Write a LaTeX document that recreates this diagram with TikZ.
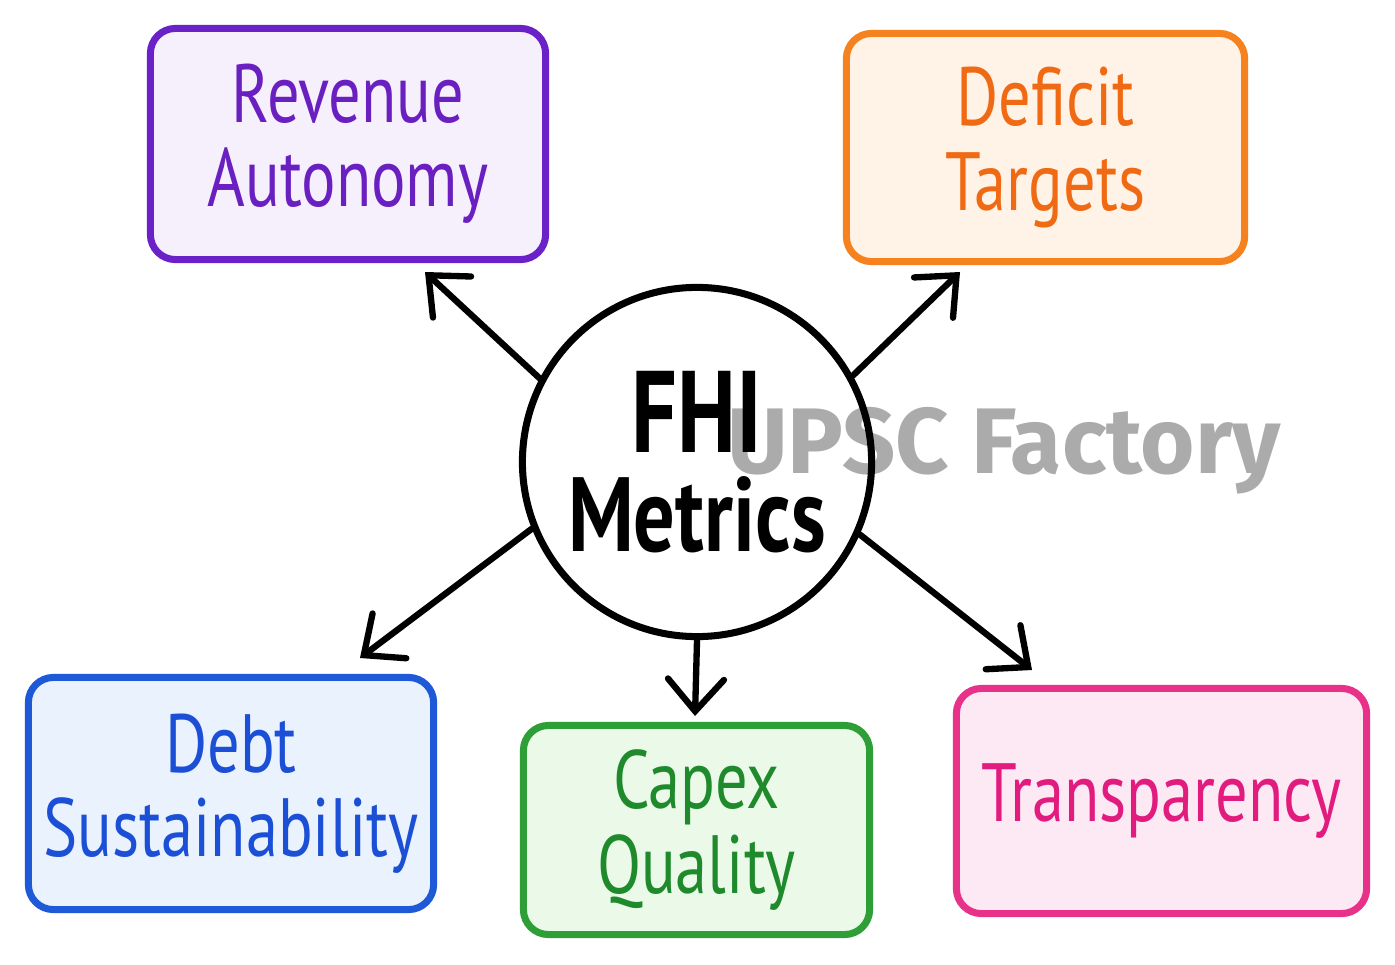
\documentclass[tikz,border=0pt]{standalone}
\usepackage{fontspec}
\setmainfont{PT Sans}[FakeStretch=0.78]
\newfontfamily\markfont{Fira Sans}
\usetikzlibrary{arrows.meta}

\definecolor{revline}{HTML}{6B21C8}
\definecolor{revtext}{HTML}{6A1FC0}
\definecolor{revfill}{HTML}{F6F0FC}
\definecolor{defline}{HTML}{F5821F}
\definecolor{deftext}{HTML}{F06A14}
\definecolor{deffill}{HTML}{FFF3E8}
\definecolor{debtline}{HTML}{1E5AD8}
\definecolor{debttext}{HTML}{1B4FD6}
\definecolor{debtfill}{HTML}{EAF3FD}
\definecolor{capline}{HTML}{2E9E36}
\definecolor{captext}{HTML}{1F8A2C}
\definecolor{capfill}{HTML}{EAF9E8}
\definecolor{trline}{HTML}{E8328A}
\definecolor{trtext}{HTML}{E21C7E}
\definecolor{trfill}{HTML}{FDE9F3}

\begin{document}
\begin{tikzpicture}[
  x=0.01cm, y=-0.01cm,
  box/.style={draw, line width=2pt, rounded corners=0.25cm, align=center,
    font=\fontsize{23.5}{24}\selectfont},
  hubnode/.style={draw, circle, line width=2pt, align=center,
    minimum size=3.49cm, font=\bfseries\fontsize{30}{28}\selectfont},
  link/.style={draw, line width=1.8pt, line cap=round,
    -{Straight Barb[length=0.32cm, width=0.56cm, line cap=round]}}
  ]
\useasboundingbox[fill=white] (0,0) rectangle (1395,964);

% watermark sits under the hub
\node[font=\markfont\bfseries\fontsize{26.5}{28}\selectfont, text=black!33, anchor=base] (mark) at (1004,473) {UPSC Factory};

\node[hubnode] (hub) at (697,462) {{\fontsize{33}{28}\selectfont FHI}\\Metrics};

\node[box, draw=revline, fill=revfill, text=revtext, minimum width=3.95cm, minimum height=2.31cm] (rev) at (348,144) {Revenue\\Autonomy};
\node[box, draw=defline, fill=deffill, text=deftext, minimum width=3.98cm, minimum height=2.28cm] (def) at (1045.5,147.5) {Deficit\\Targets};
\node[box, draw=debtline, fill=debtfill, text=debttext, minimum width=4.05cm, minimum height=2.32cm] (debt) at (231,793.5) {Debt\\Sustainability};
\node[box, draw=capline, fill=capfill, text=captext, minimum width=3.46cm, minimum height=2.09cm] (capex) at (696.5,830) {Capex\\Quality};
\node[box, draw=trline, fill=trfill, text=trtext, minimum width=4.10cm, minimum height=2.25cm] (trans) at (1161.5,801) {Transparency};

% arrow tips, just short of the boxes
\coordinate (revtip) at (425,272);
\coordinate (deftip) at (960,272);
\coordinate (debttip) at (360,658);
\coordinate (capextip) at (695,716);
\coordinate (transtip) at (1032,670);

\foreach \a/\t in {152/revtip, 29/deftip, 202/debttip, 270/capextip, 336/transtip}
  \draw[link] (hub.\a) -- (\t);

\end{tikzpicture}
\end{document}
